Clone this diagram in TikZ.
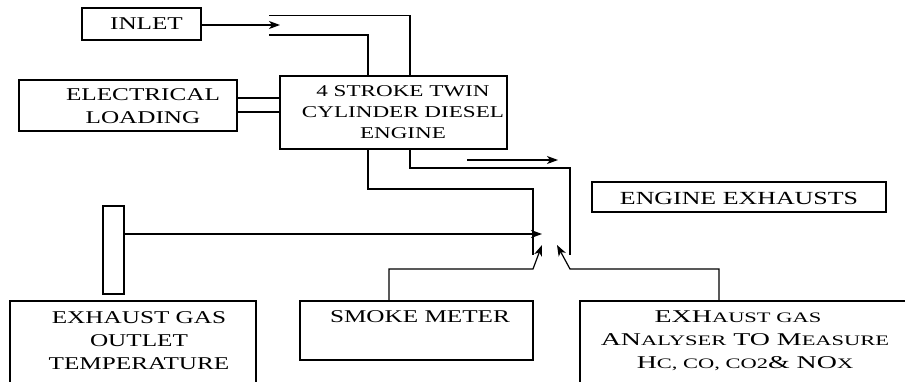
\documentclass[tikz,border=0pt]{standalone}
\usepackage{fontspec}
\setmainfont[FakeStretch=1.4]{Liberation Serif}
\newfontfamily\widefont[FakeStretch=1.55]{Liberation Serif}
\usetikzlibrary{arrows.meta}
\newcommand\smc[1]{{\fontsize{14.5}{14.5}\selectfont #1}}
\begin{document}
\begin{tikzpicture}[x=1pt,y=-1pt,
  line width=1.2pt,
  boxnode/.style={draw, line width=1.2pt, inner sep=0pt, outer sep=0pt},
  lbl/.style={anchor=north, inner sep=0pt, align=center, font=\fontsize{18}{23}\selectfont},
  arr/.style={-{Stealth[length=11pt,width=8pt,inset=3pt]}}]
\useasboundingbox (0,0) rectangle (905,381);
\clip (0,0) rectangle (905,381);
% boxes
\node[boxnode, minimum width=119pt, minimum height=32pt] (inlet) at (141.5,24) {};
\node[boxnode, minimum width=227pt, minimum height=73pt] (engine) at (393.5,112.5) {};
\node[boxnode, minimum width=218pt, minimum height=51pt] (elec) at (128,105.5) {};
\node[boxnode, minimum width=294pt, minimum height=30pt] (exh) at (739,197) {};
\node[boxnode, minimum width=21pt, minimum height=88pt] (thermo) at (113.5,250) {};
\node[boxnode, minimum width=246pt, minimum height=94pt] (temp) at (133,348) {};
\node[boxnode, minimum width=233pt, minimum height=59pt] (smoke) at (416.5,330.5) {};
\node[boxnode, minimum width=335pt, minimum height=94pt] (anal) at (747.5,348) {};
% texts
\node[lbl] (inlettxt) at (146.5,17) {INLET};
\node[lbl, font=\fontsize{16.5}{21}\selectfont] (enginetxt) at (403,85) {4 STROKE TWIN\\CYLINDER DIESEL\\ENGINE};
\node[lbl] (electxt) at (143,88) {ELECTRICAL\\LOADING};
\node[lbl, font=\fontsize{18.5}{23}\selectfont] (exhtxt) at (739,192) {ENGINE EXHAUSTS};
\node[lbl] (temptxt) at (139,311) {EXHAUST GAS\\OUTLET\\TEMPERATURE};
\node[lbl] (smoketxt) at (420,310) {SMOKE METER};
\node[lbl, font=\widefont\fontsize{18}{23}\selectfont] (analtxt) at (745,310)
  {EXH\smc{AUST GAS}\hspace*{14pt}\\AN\smc{ALYSER} TO M\smc{EASURE}\\H\smc{C, CO, CO2}\& NO\smc{X}};
% free coordinates
\coordinate (inTip) at (280,25);
\coordinate (pU) at (269,15.7);
\coordinate (pL) at (269,35);
\coordinate (exA) at (467,160);
\coordinate (exB) at (558,160);
\coordinate (tTip) at (542,234);
\coordinate (sTip) at (542,245);
\coordinate (aTip) at (557,245);
% connectors
\draw[arr] (inlet.east |- 0,25) -- (inTip);
\draw (pU) -- (410,15.7) -- (engine.north -| 410,0);
\draw (pL) -- (368,35) -- (engine.north -| 368,0);
\draw (elec.east |- 0,98) -- (engine.west |- 0,98);
\draw (elec.east |- 0,112) -- (engine.west |- 0,112);
\draw (engine.south -| 368,0) -- (368,189) -- (533,189) -- (533,255);
\draw (engine.south -| 410,0) -- (410,168) -- (570,168) -- (570,255);
\draw[arr] (exA) -- (exB);
\draw[arr] (thermo.east |- 0,234) -- (tTip);
\draw[arr] (smoke.north -| 389,0) -- (389,269) -- (533,269) -- (sTip);
\draw[arr] (anal.north -| 719,0) -- (719,269) -- (570,269) -- (aTip);
\end{tikzpicture}
\end{document}
